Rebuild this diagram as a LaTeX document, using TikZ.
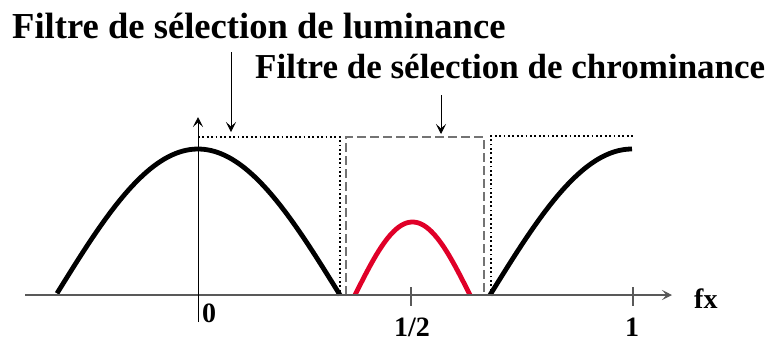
\documentclass[tikz,border=0pt]{standalone}
\usepackage{fontspec}
\setmainfont{Liberation Serif}
\usetikzlibrary{arrows.meta}
\tikzset{
  axisline/.style={line width=1.1pt, draw=black!65},
  tip/.style={-{Stealth[length=10pt,width=10pt,inset=4.5pt]}},
  lumfilter/.style={line width=2pt, dash pattern=on 1.8pt off 2.6pt},
  chromfilter/.style={line width=1.2pt, draw=black!55, dash pattern=on 9pt off 4pt},
  spectrum/.style={line width=4.8pt},
  title/.style={font=\fontsize{#1}{40}\selectfont\bfseries, inner sep=0pt, anchor=base west},
  axlabel/.style={font=\fontsize{28}{32}\selectfont\bfseries, inner sep=0pt, text depth=0pt},
}
\begin{document}
\begin{tikzpicture}[x=1pt,y=-1pt]
\useasboundingbox (0,0) rectangle (772,341);
% filters
\draw[lumfilter] (198,137) -- (340,137) -- (340,295);
\draw[lumfilter] (491,295) -- (491,136) -- (633,136);
\draw[chromfilter] (346,295) -- (346,137) -- (484,137) -- (484,295);
% spectra
\draw[spectrum, domain=57:340, samples=80] plot (\x,{295-146*cos((\x-198)/142*90)});
\draw[spectrum, domain=490:632, samples=60] plot (\x,{295-146*cos((\x-632)/142*90)});
\draw[spectrum, draw={rgb,255:red,224;green,0;blue,40}, domain=355:470, samples=60] plot (\x,{295-73*cos((\x-412.5)/57.5*90)});
% axes
\coordinate (xs) at (25,295);
\coordinate (xe) at (672,295);
\coordinate (ys) at (198,322);
\coordinate (ye) at (198,117);
\draw[axisline, tip] (xs) -- (xe);
\draw[line width=1pt, tip] (ys) -- (ye);
\coordinate (th1) at (411,287); \coordinate (tl1) at (411,306);
\coordinate (th2) at (633,287); \coordinate (tl2) at (633,306);
\draw[axisline] (th1) -- (tl1);
\draw[axisline] (th2) -- (tl2);
% labels
\node[axlabel, anchor=base west] (fx) at (694,308) {fx};
\node[axlabel, anchor=base west] (l0) at (202,322) {0};
\node[axlabel, anchor=base] (lh) at (412,336) {1/2};
\node[axlabel, anchor=base] (l1) at (632,336) {1};
% titles
\node[title=36.6] (lum) at (12,38) {Filtre de sélection de luminance};
\node[title=35] (chr) at (255,78) {Filtre de sélection de chrominance};
\coordinate (a1s) at (231,52); \coordinate (a1e) at (231,132);
\coordinate (a2s) at (441,95); \coordinate (a2e) at (441,134);
\draw[line width=1pt, tip] (a1s) -- (a1e);
\draw[line width=1pt, tip] (a2s) -- (a2e);
\end{tikzpicture}
\end{document}
